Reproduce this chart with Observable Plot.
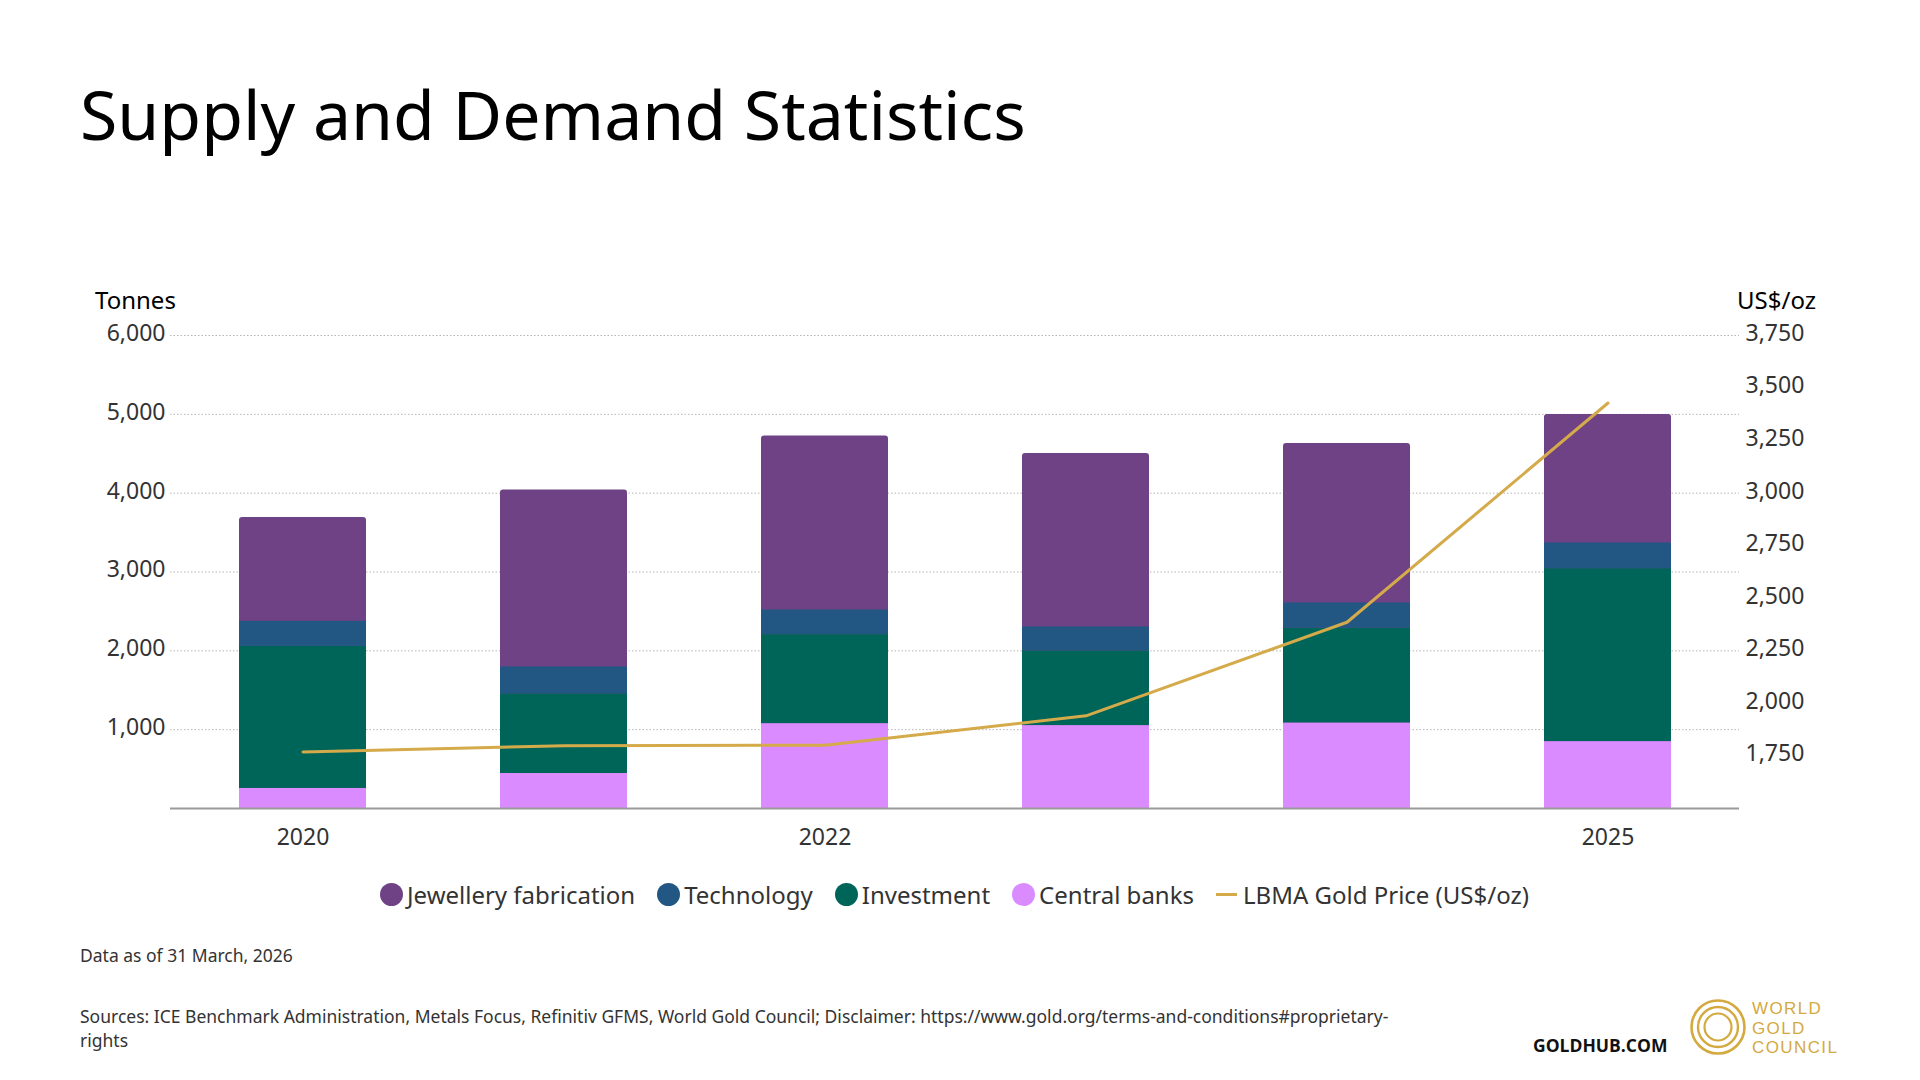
<!DOCTYPE html>
<html>
<head>
<meta charset="utf-8">
<script src="https://cdn.jsdelivr.net/npm/d3@7"></script>
<script src="https://cdn.jsdelivr.net/npm/@observablehq/plot@0.6"></script>
<style>
  html, body { margin: 0; padding: 0; background: #fff; }
  body { width: 1920px; height: 1080px; position: relative; overflow: hidden; font-family: "Noto Sans", "Open Sans", sans-serif; }
  .abs { position: absolute; white-space: nowrap; }
  #title { left: 80px; top: 80px; font-size: 68px; line-height: 68px; color: #000; }
  #ytitleL { left: 95px; top: 287.5px; font-size: 24px; line-height: 24px; color: #000; }
  #ytitleR { left: 1737px; top: 287.5px; font-size: 24px; line-height: 24px; color: #000; }
  #chart { position: absolute; left: 0; top: 290px; }
  #legend { position: absolute; left: 170px; width: 1569px; top: 878.5px; height: 32px; display: flex; justify-content: center; align-items: center; font-size: 24px; color: #333; }
  .item { display: flex; align-items: center; margin: 0 11px; }
  .dot { width: 23px; height: 23px; border-radius: 50%; margin-right: 4px; }
  .dash { width: 21px; height: 3px; margin-right: 6px; }
  #asof { left: 80px; top: 944.5px; font-size: 17.5px; line-height: 20px; color: #333; }
  #sources { left: 80px; top: 1004px; font-size: 17.5px; line-height: 24px; color: #333; }
  #goldhub { left: 1533px; top: 1035px; font-family: "Open Sans", "Noto Sans", sans-serif; font-weight: 700; font-size: 17.5px; line-height: 20px; color: #111; }
  #wgc { left: 1752px; top: 999px; font-family: "Liberation Sans", Arial, sans-serif; font-size: 17px; line-height: 19.5px; color: #D4A93F; letter-spacing: 1.4px; white-space: normal; }
  #logo { position: absolute; left: 1688px; top: 997px; }
</style>
</head>
<body>
<div id="title" class="abs">Supply and Demand Statistics</div>
<div id="ytitleL" class="abs">Tonnes</div>
<div id="ytitleR" class="abs">US$/oz</div>
<div id="chart"></div>
<div id="legend"></div>
<div id="asof" class="abs">Data as of 31 March, 2026</div>
<div id="sources" class="abs">Sources: ICE Benchmark Administration, Metals Focus, Refinitiv GFMS, World Gold Council; Disclaimer: https://www.gold.org/terms-and-conditions#proprietary-<br>rights</div>
<div id="goldhub" class="abs">GOLDHUB.COM</div>
<svg id="logo" width="60" height="60" viewBox="0 0 60 60">
  <circle cx="30" cy="30" r="26.5" fill="none" stroke="#D4A93F" stroke-width="2.6"/>
  <circle cx="30" cy="30" r="20" fill="none" stroke="#D4A93F" stroke-width="2.4"/>
  <circle cx="30" cy="30" r="13.5" fill="none" stroke="#D4A93F" stroke-width="2.2"/>
</svg>
<div id="wgc" class="abs">WORLD<br>GOLD<br>COUNCIL</div>
<script>
// ---- data ----
const years = [2020, 2021, 2022, 2023, 2024, 2025];
const jewellery = [1318, 2243, 2206, 2201, 2024, 1631];
const technology = [317, 342, 313, 304, 321, 326];
const investment = [1802, 1010, 1128, 947, 1200, 2193];
const centralBanks = [255, 444, 1077, 1052, 1086, 849];
const goldPrice = [1769, 1799, 1801, 1941, 2386, 3429];

const seriesNames = ["Jewellery fabrication", "Technology", "Investment", "Central banks"];
const seriesColors = ["#6F4285", "#225784", "#006559", "#DA8BFF"];
const goldName = "LBMA Gold Price (US$/oz)";
const goldColor = "#D4AA4A";

const leftTicks = [1000, 2000, 3000, 4000, 5000, 6000];
const rightTicks = [1750, 2000, 2250, 2500, 2750, 3000, 3250, 3500, 3750];
const xTickLabels = [2020, 2022, 2025];
const leftDomain = [0, 6000];
const rightDomain = [1500, 3750];

// ---- derived tables ----
const toY = v => (v - rightDomain[0]) * (leftDomain[1] - leftDomain[0]) / (rightDomain[1] - rightDomain[0]);
const fromY = t => Math.round(t * (rightDomain[1] - rightDomain[0]) / (leftDomain[1] - leftDomain[0]) + rightDomain[0]);

const lowerRows = years.flatMap((yr, i) => [
  {year: yr, series: "Central banks", value: centralBanks[i]},
  {year: yr, series: "Investment", value: investment[i]},
  {year: yr, series: "Technology", value: technology[i]}
]);
const totals = years.map((yr, i) => ({year: yr, total: jewellery[i] + technology[i] + investment[i] + centralBanks[i]}));
const goldRows = years.map((yr, i) => ({year: yr, price: goldPrice[i]}));
const fmt = d3.format(",");

const chart = Plot.plot({
  width: 1920,
  height: 578,
  marginLeft: 170,
  marginRight: 181,
  marginTop: 45,
  marginBottom: 60,
  style: {fontFamily: "Noto Sans, Open Sans, sans-serif", fontSize: "23px", color: "#333", background: "transparent", overflow: "visible"},
  x: {type: "band", domain: years, paddingInner: 0.5145, paddingOuter: 0.257, label: null},
  y: {domain: leftDomain, label: null},
  color: {domain: seriesNames, range: seriesColors},
  marks: [
    Plot.gridY(leftTicks, {stroke: "#b5b5b5", strokeOpacity: 1, strokeWidth: 1, strokeDasharray: "1.5,2"}),
    Plot.barY(totals, {x: "year", y: "total", fill: seriesColors[0], rx: 3}),
    Plot.barY(lowerRows, {x: "year", y: "value", fill: "series", order: ["Central banks", "Investment", "Technology"]}),
    Plot.ruleY([0], {stroke: "#9a9a9a", strokeWidth: 2}),
    Plot.line(goldRows, {x: "year", y: d => toY(d.price), stroke: goldColor, strokeWidth: 3}),
    Plot.axisY(leftTicks, {anchor: "left", tickSize: 0, tickPadding: 5, tickFormat: fmt, fontSize: 23, dy: -2, label: null}),
    Plot.axisY(rightTicks.map(toY), {anchor: "right", tickSize: 0, tickPadding: 6, tickFormat: d => fmt(fromY(d)), fontSize: 23, dy: -2, label: null}),
    Plot.axisX(xTickLabels, {anchor: "bottom", tickSize: 0, tickPadding: 20, fontSize: 23, tickFormat: d => String(d), label: null})
  ]
});
document.getElementById("chart").appendChild(chart);

// ---- legend ----
const legend = document.getElementById("legend");
seriesNames.forEach((name, i) => {
  const item = document.createElement("div");
  item.className = "item";
  const dot = document.createElement("span");
  dot.className = "dot";
  dot.style.background = seriesColors[i];
  const label = document.createElement("span");
  label.textContent = name;
  item.appendChild(dot);
  item.appendChild(label);
  legend.appendChild(item);
});
{
  const item = document.createElement("div");
  item.className = "item";
  const dash = document.createElement("span");
  dash.className = "dash";
  dash.style.background = goldColor;
  const label = document.createElement("span");
  label.textContent = goldName;
  item.appendChild(dash);
  item.appendChild(label);
  legend.appendChild(item);
}
</script>
</body>
</html>
